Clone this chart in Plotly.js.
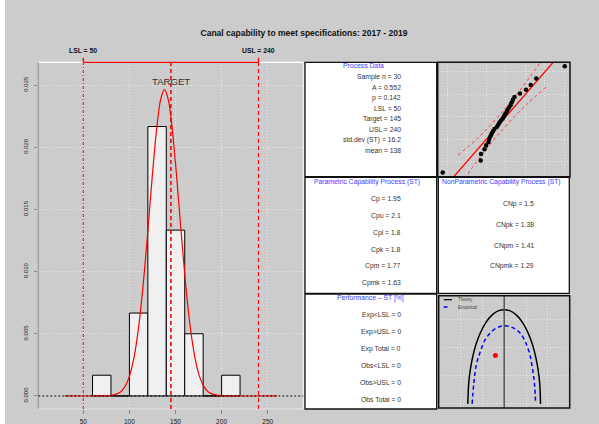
<!DOCTYPE html>
<html><head><meta charset="utf-8">
<script src="https://cdn.plot.ly/plotly-3.0.1.min.js"></script>
<style>html,body{margin:0;padding:0;background:#cccccc;}#chart{width:599px;height:424px;}</style>
</head><body><div id="chart"></div>
<script>
// ---------- data ----------
const LSL = 50, TARGET = 145, USL = 240;
const sampleSize = 30;
const binStarts = [60, 80, 100, 120, 140, 160, 180, 200];
const binCounts = [1, 0, 4, 13, 8, 3, 0, 1];
const binWidth = 20;
// fitted normal density curve
const curveX = [30, 70, 80, 90, 95, 100, 105, 110, 115, 120, 125, 130, 134, 138, 142, 146, 151, 156, 161, 166, 171, 176, 181, 186, 196, 206, 260];
const curveY = [0, 0.0000037, 0.000041, 0.000305, 0.000727, 0.001573, 0.003093, 0.005529, 0.008988, 0.013283, 0.017847, 0.021799, 0.023887, 0.024626, 0.023887, 0.021799, 0.017847, 0.013283, 0.008988, 0.005529, 0.003093, 0.001573, 0.000727, 0.000305, 0.000041, 0.0000037, 0];
const xTicks = [50, 100, 150, 200, 250];
const yTicks = [0, 0.005, 0.010, 0.015, 0.020, 0.025];
const yTickText = ['0.000', '0.005', '0.010', '0.015', '0.020', '0.025'];

// Q-Q plot
const sampleSorted = [75.3, 114.2, 114.5, 118.1, 119.8, 122.2, 123.0, 124.2, 125.4, 126.8, 128.3, 130.9, 132.2, 133.4, 135.0, 136.7, 138.0, 139.1, 140.6, 141.6, 143.2, 144.7, 145.9, 147.2, 148.8, 154.4, 160.6, 165.4, 171.1, 200.2];
const theoreticalQ = [90.4, 101.1, 106.9, 111.1, 114.6, 117.6, 120.2, 122.6, 124.9, 127.0, 129.1, 131.0, 132.9, 134.8, 136.7, 138.5, 140.4, 142.3, 144.2, 146.1, 148.2, 150.3, 152.6, 155.0, 157.6, 160.6, 164.1, 168.3, 174.1, 184.8];
const qqLineX = [60, 215];
const qqLineY = [60, 215];
const bandX = [91, 110, 137, 160, 182];
const bandUpper = [106, 120, 145, 170, 197];
const bandLower = [76, 100, 129, 150, 167];

// capability plot (delta, gamma)
const theoryDelta = [-0.333, -0.325, -0.31, -0.29, -0.26, -0.22, -0.17, -0.11, -0.05, 0, 0.05, 0.11, 0.17, 0.22, 0.26, 0.29, 0.31, 0.325, 0.333];
const theoryGamma = [0, 0.074, 0.122, 0.164, 0.209, 0.250, 0.287, 0.315, 0.330, 0.333, 0.330, 0.315, 0.287, 0.250, 0.209, 0.164, 0.122, 0.074, 0];
const empDelta = [-0.294, -0.278, -0.255, -0.218, -0.173, -0.112, -0.051, 0.009, 0.085, 0.145, 0.191, 0.231, 0.261, 0.279, 0.288];
const empGamma = [0, 0.074, 0.139, 0.186, 0.228, 0.257, 0.272, 0.277, 0.269, 0.251, 0.222, 0.180, 0.121, 0.063, 0];
const processDelta = [-0.08];
const processGamma = [0.171];

// text panels
const processNames = ['Sample n', 'A', 'p', 'LSL', 'Target', 'USL', 'std.dev (ST)', 'mean'];
const processValues = ['30', '0.552', '0.142', '50', '145', '240', '16.2', '138'];
const paramNames = ['Cp', 'Cpu', 'Cpl', 'Cpk', 'Cpm', 'Cpmk'];
const paramValues = ['1.95', '2.1', '1.8', '1.8', '1.77', '1.63'];
const nonparamNames = ['CNp', 'CNpk', 'CNpm', 'CNpmk'];
const nonparamValues = ['1.5', '1.38', '1.41', '1.29'];
const perfNames = ['Exp&lt;LSL', 'Exp&gt;USL', 'Exp Total', 'Obs&lt;LSL', 'Obs&gt;USL', 'Obs Total'];
const perfValues = ['0', '0', '0', '0', '0', '0'];

// ---------- layout helpers ----------
const W = 599, H = 424;
const fx = p => p / W, fy = p => 1 - p / H;
const FONT = 'Liberation Sans, Arial, sans-serif';
const BG = '#cccccc';
const BLUE = 'rgb(64,64,255)';
const TXT = '#333333';

const density = binCounts.map(c => c / (sampleSize * binWidth));

const traces = [
  {type: 'bar', x: binStarts.map(b => b + binWidth / 2), y: density, width: binWidth,
   marker: {color: '#f0f0f0', line: {color: '#000', width: 1}}, xaxis: 'x', yaxis: 'y'},
  {type: 'scatter', mode: 'lines', x: curveX, y: curveY, line: {color: 'red', width: 1.2, shape: 'spline', smoothing: 0.8},
   xaxis: 'x', yaxis: 'y'},
  {type: 'scatter', mode: 'lines', x: bandX, y: bandUpper, line: {color: 'rgb(255,50,50)', width: 1, dash: 'dot', shape: 'spline'}, xaxis: 'x2', yaxis: 'y2'},
  {type: 'scatter', mode: 'lines', x: bandX, y: bandLower, line: {color: 'rgb(255,50,50)', width: 1, dash: 'dot', shape: 'spline'}, xaxis: 'x2', yaxis: 'y2'},
  {type: 'scatter', mode: 'lines', x: qqLineX, y: qqLineY, line: {color: 'red', width: 1.3}, xaxis: 'x2', yaxis: 'y2'},
  {type: 'scatter', mode: 'markers', x: sampleSorted, y: theoreticalQ, marker: {color: '#000', size: 4.5}, xaxis: 'x2', yaxis: 'y2'},
  {type: 'scatter', mode: 'lines', x: theoryDelta, y: theoryGamma, line: {color: '#000', width: 1.5, shape: 'spline'}, xaxis: 'x3', yaxis: 'y3'},
  {type: 'scatter', mode: 'lines', x: empDelta, y: empGamma, line: {color: 'blue', width: 1.5, dash: '4px,3px', shape: 'spline'}, xaxis: 'x3', yaxis: 'y3'},
  {type: 'scatter', mode: 'markers', x: processDelta, y: processGamma, marker: {color: 'red', size: 5}, xaxis: 'x3', yaxis: 'y3'}
];
traces.forEach(t => { t.showlegend = false; t.hoverinfo = 'skip'; });

const gridAxis = (extra) => Object.assign({
  showgrid: true, gridcolor: '#f2f2f2', griddash: '1px,2px', gridwidth: 0.8,
  zeroline: false, showline: false
}, extra);

const shapes = [];
// left white strip
shapes.push({type: 'rect', xref: 'paper', yref: 'paper', x0: 0, x1: fx(5), y0: 0, y1: 1, fillcolor: '#ffffff', line: {width: 0}, layer: 'below'});
// text boxes
[[305, 436.7, 62.3, 176.7], [305, 436.7, 177.3, 293.3], [438.3, 569.3, 177.3, 293.3], [305, 436.7, 294, 409]].forEach(b => {
  shapes.push({type: 'rect', xref: 'paper', yref: 'paper', x0: fx(b[0]), x1: fx(b[1]), y0: fy(b[3]), y1: fy(b[2]),
    fillcolor: '#ffffff', line: {color: '#111', width: 1.3}, layer: 'below'});
});
// histogram frame
const hx0 = 38.3, hx1 = 303.3, hy0 = 62.3, hy1 = 409;
shapes.push({type: 'line', xref: 'paper', yref: 'paper', x0: fx(hx0), x1: fx(hx1), y0: fy(hy0), y1: fy(hy0), line: {color: '#ffffff', width: 1.2}});
shapes.push({type: 'line', xref: 'paper', yref: 'paper', x0: fx(hx1), x1: fx(hx1), y0: fy(hy0), y1: fy(hy1), line: {color: '#f2f2f2', width: 1.2}});
shapes.push({type: 'line', xref: 'paper', yref: 'paper', x0: fx(hx0), x1: fx(hx1), y0: fy(hy1), y1: fy(hy1), line: {color: '#e4e4e4', width: 1.2}});
shapes.push({type: 'line', xref: 'paper', yref: 'paper', x0: fx(hx0), x1: fx(hx0), y0: fy(hy0), y1: fy(hy1), line: {color: '#999999', width: 1.2}});
// baseline
shapes.push({type: 'line', xref: 'x domain', yref: 'y', x0: 0, x1: 1, y0: 0, y1: 0, line: {color: '#000', width: 1, dash: '2px,2px'}});
// spec lines
shapes.push({type: 'line', xref: 'x', yref: 'y domain', x0: LSL, x1: LSL, y0: 0, y1: 1, line: {color: 'red', width: 1, dash: '3px,2px,1px,2px'}});
shapes.push({type: 'line', xref: 'x', yref: 'y domain', x0: USL, x1: USL, y0: 0, y1: 1, line: {color: 'red', width: 1.1, dash: '4px,3px'}});
shapes.push({type: 'line', xref: 'x', yref: 'y domain', x0: TARGET, x1: TARGET, y0: 0, y1: 1, line: {color: 'rgb(230,0,0)', width: 1.5, dash: '4px,3px'}});
// spec bar on top
shapes.push({type: 'line', xref: 'x', yref: 'y domain', x0: LSL, x1: USL, y0: 1, y1: 1, line: {color: 'red', width: 1.3}});
shapes.push({type: 'line', xref: 'x', yref: 'y domain', x0: LSL, x1: LSL, y0: 1, y1: 1.013, line: {color: 'red', width: 1.3}});
shapes.push({type: 'line', xref: 'x', yref: 'y domain', x0: USL, x1: USL, y0: 1, y1: 1.013, line: {color: 'red', width: 1.3}});
// QQ frame
shapes.push({type: 'rect', xref: 'x2 domain', yref: 'y2 domain', x0: 0, x1: 1, y0: 0, y1: 1, line: {color: '#111', width: 1.5}});
// capability frame + centre line
shapes.push({type: 'line', xref: 'x3', yref: 'y3 domain', x0: 0, x1: 0, y0: 0, y1: 1, line: {color: '#555', width: 1.5}});
shapes.push({type: 'rect', xref: 'x3 domain', yref: 'y3 domain', x0: 0, x1: 1, y0: 0, y1: 1, line: {color: '#111', width: 1.5}});
// capability legend keys
shapes.push({type: 'line', xref: 'paper', yref: 'paper', x0: fx(443.7), x1: fx(452), y0: fy(299.7), y1: fy(299.7), line: {color: '#000', width: 1.2}});
shapes.push({type: 'line', xref: 'paper', yref: 'paper', x0: fx(443.7), x1: fx(447.5), y0: fy(307), y1: fy(307), line: {color: 'blue', width: 1.5}});

const annotations = [];
const ann = (text, xp, yp, opts) => annotations.push(Object.assign({
  text: text, xref: 'paper', yref: 'paper', x: fx(xp), y: fy(yp), showarrow: false,
  xanchor: 'center', yanchor: 'middle', font: {family: FONT, size: 6.8, color: TXT}
}, opts || {}));

ann('<b>LSL = 50</b>', 83.3, 50.7, {font: {family: FONT, size: 6.8, color: '#111'}});
ann('<b>USL = 240</b>', 258.5, 50.7, {font: {family: FONT, size: 6.8, color: '#111'}});
annotations.push({text: 'TARGET', xref: 'x', yref: 'y', x: TARGET, y: 0.0253, showarrow: false,
  xanchor: 'center', yanchor: 'middle', font: {family: FONT, size: 9.6, color: '#333'}});

ann('Process Data', 363.3, 65.7, {font: {family: FONT, size: 6.8, color: BLUE}});
processNames.forEach((n, i) => ann(n + ' = ' + processValues[i], 403.3, 76.7 + i * 10.57, {xanchor: 'right'}));
ann('Parametric Capability Process (ST)', 366.7, 181.7, {font: {family: FONT, size: 6.8, color: BLUE}});
paramNames.forEach((n, i) => ann(n + ' = ' + paramValues[i], 402.7, 199 + i * 16.86, {xanchor: 'right'}));
ann('NonParametric Capability Process (ST)', 501.7, 182, {font: {family: FONT, size: 6.8, color: BLUE}});
nonparamNames.forEach((n, i) => ann(n + ' = ' + nonparamValues[i], 536, 203.7 + i * 20.9, {xanchor: 'right'}));
ann('Performance \u2013 ST [%]', 370, 298.3, {font: {family: FONT, size: 6.8, color: BLUE}});
perfNames.forEach((n, i) => ann(n + ' = ' + perfValues[i], 402.7, 315.3 + i * 16.8, {xanchor: 'right'}));
ann('Theory', 456, 299.7, {xanchor: 'left', font: {family: FONT, size: 4.6, color: '#444'}});
ann('Empirical', 456, 307, {xanchor: 'left', font: {family: FONT, size: 4.6, color: '#444'}});

const layout = {
  width: W, height: H, margin: {l: 0, r: 0, t: 0, b: 0},
  paper_bgcolor: BG, plot_bgcolor: BG, showlegend: false,
  font: {family: FONT, color: TXT},
  title: {text: '<b>Canal capability to meet specifications: 2017 - 2019</b>', x: fx(304), xanchor: 'center',
          y: fy(33.3), yanchor: 'middle', xref: 'paper', yref: 'paper', font: {family: FONT, size: 8.5, color: '#111'}},
  bargap: 0,
  xaxis: gridAxis({domain: [fx(hx0), fx(hx1)], range: [1.19, 288.6], anchor: 'y', tickvals: xTicks,
    ticks: 'outside', ticklen: 4, tickcolor: '#888', tickfont: {family: FONT, size: 6.6, color: '#222'}, ticklabelstandoff: 2}),
  yaxis: gridAxis({domain: [fy(hy1), fy(hy0)], range: [-0.00105, 0.02683], anchor: 'x', tickvals: yTicks, ticktext: yTickText,
    tickangle: -90, ticks: 'outside', ticklen: 3, tickcolor: '#888', tickfont: {family: FONT, size: 6, color: '#222'}, ticklabelstandoff: 4}),
  xaxis2: gridAxis({domain: [fx(437.7), fx(570)], range: [70.2, 205.6], anchor: 'y2', tickvals: [80, 100, 120, 140, 160, 180, 200], showticklabels: false, ticks: ''}),
  yaxis2: gridAxis({domain: [fy(176.7), fy(62.3)], range: [86.7, 188.4], anchor: 'x2', tickvals: [100, 120, 140, 160, 180], showticklabels: false, ticks: ''}),
  xaxis3: gridAxis({domain: [fx(438.7), fx(569.7)], range: [-0.6, 0.6], anchor: 'y3', tickvals: [-0.4, -0.2, 0.2, 0.4], showticklabels: false, ticks: ''}),
  yaxis3: gridAxis({domain: [fy(408), fy(295.7)], range: [-0.0145, 0.383], anchor: 'x3', tickvals: [0, 0.1, 0.2, 0.3], showticklabels: false, ticks: ''}),
  shapes: shapes,
  annotations: annotations
};

Plotly.newPlot('chart', traces, layout, {displayModeBar: false, staticPlot: true});
</script></body></html>
